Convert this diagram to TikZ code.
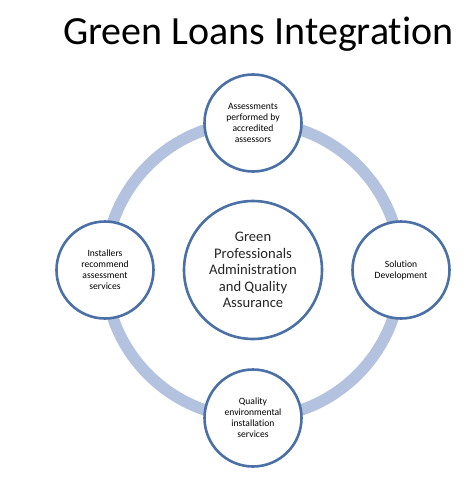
\documentclass[tikz,border=0pt]{standalone}
\usepackage{fontspec}
\setmainfont{Carlito}[Ligatures={NoCommon}]
\definecolor{ringblue}{HTML}{B3C2DF}
\definecolor{edgeblue}{HTML}{4A70A6}
\begin{document}
\begin{tikzpicture}[x=1pt,y=-1pt,
  stepcircle/.style={circle,draw=edgeblue,line width=2.6pt,fill=white,minimum size=97pt,inner sep=0pt,align=center,font=\fontsize{9.6}{11}\selectfont,text=black},
  hubcircle/.style={circle,draw=edgeblue,line width=2.6pt,fill=white,minimum size=138pt,inner sep=0pt,align=center,font=\fontsize{14.6}{16.5}\selectfont,text=black!85},
  ring/.style={draw=ringblue,line width=11.5pt}]
\useasboundingbox (0,0) rectangle (473,487);
\node[anchor=base west,font=\fontsize{40}{42}\selectfont,inner sep=0pt] (title) at (63,45) {Green Loans Integration};
\coordinate (c) at (253,270);
\draw[ring] (c) circle[radius=148];
\node[hubcircle] (hub) at (c) {Green\\Professionals\\Administration\\and Quality\\Assurance};
\node[stepcircle] (top) at (253,123) {Assessments\\performed by\\accredited\\assessors};
\node[stepcircle] (right) at (401,270) {Solution\\Development};
\node[stepcircle] (bottom) at (253,418) {Quality\\environmental\\installation\\services};
\node[stepcircle] (left) at (105,270) {Installers\\recommend\\assessment\\services};
\end{tikzpicture}
\end{document}
